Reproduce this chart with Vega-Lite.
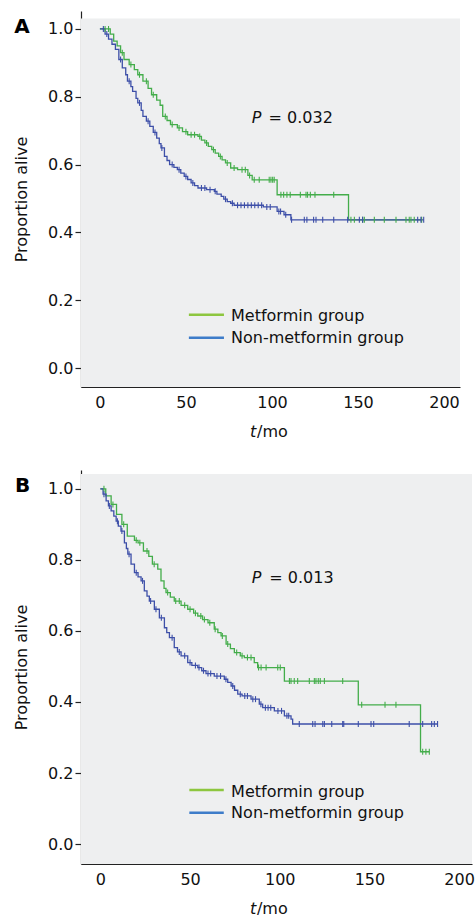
{
  "$schema": "https://vega.github.io/schema/vega-lite/v6.json",
  "autosize": {"type": "pad"},
  "padding": {"left": 13, "top": 11, "right": 0, "bottom": 0},
  "background": "white",
  "spacing": 29,
  "config": {
    "view": {"stroke": null},
    "font": "DejaVu Sans",
    "axis": {"grid": false, "domainColor": "#222", "tickColor": "#222", "labelColor": "#111", "titleColor": "#111", "labelFont": "DejaVu Sans", "titleFont": "DejaVu Sans", "labelFontSize": 16, "titleFontSize": 16, "titleFontWeight": "normal", "domainWidth": 1.2, "tickWidth": 1.2},
    "text": {"font": "DejaVu Sans", "fontSize": 16, "color": "#111"}
  },
  "datasets": {
    "A": [
      {"t":0,"s":1,"g":"M","c":0},{"t":3,"s":1,"g":"M","c":1},{"t":5,"s":1,"g":"M","c":1},{"t":6,"s":0.985,"g":"M","c":0},{"t":8,"s":0.964,"g":"M","c":0},{"t":10,"s":0.95,"g":"M","c":0},{"t":12,"s":0.93,"g":"M","c":0},{"t":13,"s":0.93,"g":"M","c":1},{"t":14,"s":0.91,"g":"M","c":0},{"t":17,"s":0.895,"g":"M","c":0},{"t":18,"s":0.895,"g":"M","c":1},{"t":20,"s":0.88,"g":"M","c":0},{"t":22,"s":0.865,"g":"M","c":0},{"t":23,"s":0.865,"g":"M","c":1},{"t":25,"s":0.846,"g":"M","c":0},{"t":27,"s":0.846,"g":"M","c":1},{"t":28,"s":0.825,"g":"M","c":0},{"t":30,"s":0.806,"g":"M","c":0},{"t":31,"s":0.806,"g":"M","c":1},{"t":33,"s":0.79,"g":"M","c":0},{"t":35,"s":0.775,"g":"M","c":0},{"t":36.5,"s":0.742,"g":"M","c":0},{"t":38,"s":0.742,"g":"M","c":1},{"t":39,"s":0.73,"g":"M","c":0},{"t":41,"s":0.718,"g":"M","c":0},{"t":42,"s":0.718,"g":"M","c":1},{"t":45,"s":0.708,"g":"M","c":0},{"t":46,"s":0.708,"g":"M","c":1},{"t":48,"s":0.697,"g":"M","c":0},{"t":50,"s":0.697,"g":"M","c":1},{"t":51,"s":0.688,"g":"M","c":0},{"t":53,"s":0.688,"g":"M","c":1},{"t":55,"s":0.688,"g":"M","c":1},{"t":57,"s":0.683,"g":"M","c":0},{"t":58,"s":0.683,"g":"M","c":1},{"t":59,"s":0.672,"g":"M","c":0},{"t":61,"s":0.664,"g":"M","c":0},{"t":62,"s":0.664,"g":"M","c":1},{"t":63,"s":0.654,"g":"M","c":0},{"t":65,"s":0.644,"g":"M","c":0},{"t":66,"s":0.644,"g":"M","c":1},{"t":67,"s":0.634,"g":"M","c":0},{"t":69,"s":0.624,"g":"M","c":0},{"t":70,"s":0.624,"g":"M","c":1},{"t":71,"s":0.614,"g":"M","c":0},{"t":73,"s":0.605,"g":"M","c":0},{"t":74,"s":0.605,"g":"M","c":1},{"t":76,"s":0.59,"g":"M","c":0},{"t":78,"s":0.59,"g":"M","c":1},{"t":80,"s":0.585,"g":"M","c":0},{"t":82.6,"s":0.585,"g":"M","c":1},{"t":84.5,"s":0.585,"g":"M","c":1},{"t":86,"s":0.568,"g":"M","c":0},{"t":87,"s":0.568,"g":"M","c":1},{"t":88.5,"s":0.555,"g":"M","c":0},{"t":89.7,"s":0.555,"g":"M","c":1},{"t":92.6,"s":0.555,"g":"M","c":1},{"t":98.4,"s":0.555,"g":"M","c":1},{"t":99.4,"s":0.555,"g":"M","c":1},{"t":100.4,"s":0.555,"g":"M","c":1},{"t":101.3,"s":0.555,"g":"M","c":1},{"t":103,"s":0.511,"g":"M","c":0},{"t":105.2,"s":0.511,"g":"M","c":1},{"t":106.8,"s":0.511,"g":"M","c":1},{"t":108.7,"s":0.511,"g":"M","c":1},{"t":110.6,"s":0.511,"g":"M","c":1},{"t":116.5,"s":0.511,"g":"M","c":1},{"t":119.8,"s":0.511,"g":"M","c":1},{"t":120.7,"s":0.511,"g":"M","c":1},{"t":122.3,"s":0.511,"g":"M","c":1},{"t":125,"s":0.511,"g":"M","c":1},{"t":135.9,"s":0.511,"g":"M","c":1},{"t":144.5,"s":0.437,"g":"M","c":0},{"t":145.9,"s":0.437,"g":"M","c":1},{"t":147.9,"s":0.437,"g":"M","c":1},{"t":152.7,"s":0.437,"g":"M","c":1},{"t":153.7,"s":0.437,"g":"M","c":1},{"t":159.5,"s":0.437,"g":"M","c":1},{"t":165.3,"s":0.437,"g":"M","c":1},{"t":172.1,"s":0.437,"g":"M","c":1},{"t":177.9,"s":0.437,"g":"M","c":1},{"t":179.8,"s":0.437,"g":"M","c":1},{"t":180.8,"s":0.437,"g":"M","c":1},{"t":182.7,"s":0.437,"g":"M","c":1},{"t":187,"s":0.437,"g":"M","c":1},
      {"t":0,"s":1,"g":"N","c":0},{"t":2,"s":1,"g":"N","c":1},{"t":3,"s":0.985,"g":"N","c":0},{"t":4,"s":0.985,"g":"N","c":1},{"t":5,"s":0.97,"g":"N","c":0},{"t":7,"s":0.955,"g":"N","c":0},{"t":9,"s":0.94,"g":"N","c":0},{"t":11,"s":0.91,"g":"N","c":0},{"t":12,"s":0.91,"g":"N","c":1},{"t":13,"s":0.885,"g":"N","c":0},{"t":15,"s":0.865,"g":"N","c":0},{"t":16,"s":0.846,"g":"N","c":0},{"t":17,"s":0.846,"g":"N","c":1},{"t":18,"s":0.83,"g":"N","c":0},{"t":19,"s":0.816,"g":"N","c":0},{"t":21,"s":0.795,"g":"N","c":0},{"t":22,"s":0.782,"g":"N","c":0},{"t":23,"s":0.782,"g":"N","c":1},{"t":24,"s":0.76,"g":"N","c":0},{"t":25,"s":0.742,"g":"N","c":0},{"t":27,"s":0.728,"g":"N","c":0},{"t":28,"s":0.728,"g":"N","c":1},{"t":29,"s":0.713,"g":"N","c":0},{"t":31,"s":0.695,"g":"N","c":0},{"t":32,"s":0.695,"g":"N","c":1},{"t":33,"s":0.678,"g":"N","c":0},{"t":34.5,"s":0.662,"g":"N","c":0},{"t":35.5,"s":0.649,"g":"N","c":0},{"t":36,"s":0.649,"g":"N","c":1},{"t":37.5,"s":0.624,"g":"N","c":0},{"t":39,"s":0.612,"g":"N","c":0},{"t":40.5,"s":0.6,"g":"N","c":0},{"t":42,"s":0.6,"g":"N","c":1},{"t":43,"s":0.592,"g":"N","c":0},{"t":45,"s":0.585,"g":"N","c":0},{"t":46,"s":0.585,"g":"N","c":1},{"t":47,"s":0.575,"g":"N","c":0},{"t":49,"s":0.565,"g":"N","c":0},{"t":50,"s":0.565,"g":"N","c":1},{"t":51,"s":0.556,"g":"N","c":0},{"t":53,"s":0.546,"g":"N","c":0},{"t":54,"s":0.546,"g":"N","c":1},{"t":55,"s":0.538,"g":"N","c":0},{"t":57,"s":0.531,"g":"N","c":0},{"t":59,"s":0.531,"g":"N","c":1},{"t":61,"s":0.531,"g":"N","c":1},{"t":62,"s":0.526,"g":"N","c":0},{"t":64,"s":0.526,"g":"N","c":1},{"t":66.5,"s":0.521,"g":"N","c":0},{"t":67,"s":0.521,"g":"N","c":1},{"t":68,"s":0.513,"g":"N","c":0},{"t":70.5,"s":0.506,"g":"N","c":0},{"t":72,"s":0.498,"g":"N","c":0},{"t":73,"s":0.498,"g":"N","c":1},{"t":74,"s":0.491,"g":"N","c":0},{"t":76,"s":0.486,"g":"N","c":0},{"t":77,"s":0.486,"g":"N","c":1},{"t":78,"s":0.48,"g":"N","c":0},{"t":80,"s":0.48,"g":"N","c":1},{"t":82,"s":0.48,"g":"N","c":1},{"t":84,"s":0.48,"g":"N","c":1},{"t":86,"s":0.48,"g":"N","c":1},{"t":88,"s":0.48,"g":"N","c":1},{"t":90,"s":0.48,"g":"N","c":1},{"t":92,"s":0.48,"g":"N","c":1},{"t":94,"s":0.48,"g":"N","c":1},{"t":95,"s":0.475,"g":"N","c":0},{"t":97,"s":0.475,"g":"N","c":1},{"t":99,"s":0.475,"g":"N","c":1},{"t":103,"s":0.462,"g":"N","c":0},{"t":104,"s":0.462,"g":"N","c":1},{"t":105,"s":0.462,"g":"N","c":1},{"t":107,"s":0.452,"g":"N","c":0},{"t":108,"s":0.452,"g":"N","c":1},{"t":111,"s":0.437,"g":"N","c":0},{"t":111.4,"s":0.437,"g":"N","c":1},{"t":118.8,"s":0.437,"g":"N","c":1},{"t":120.3,"s":0.437,"g":"N","c":1},{"t":124.2,"s":0.437,"g":"N","c":1},{"t":125.6,"s":0.437,"g":"N","c":1},{"t":129.5,"s":0.437,"g":"N","c":1},{"t":135.9,"s":0.437,"g":"N","c":1},{"t":144,"s":0.437,"g":"N","c":1},{"t":150.8,"s":0.437,"g":"N","c":1},{"t":152.7,"s":0.437,"g":"N","c":1},{"t":184.7,"s":0.437,"g":"N","c":1},{"t":186.6,"s":0.437,"g":"N","c":1},{"t":188.2,"s":0.437,"g":"N","c":1}
    ],
    "B": [
      {"t":0,"s":1,"g":"M","c":0},{"t":2,"s":1,"g":"M","c":1},{"t":3,"s":0.98,"g":"M","c":0},{"t":6,"s":0.956,"g":"M","c":0},{"t":7,"s":0.956,"g":"M","c":1},{"t":9,"s":0.928,"g":"M","c":0},{"t":12,"s":0.9,"g":"M","c":0},{"t":13,"s":0.9,"g":"M","c":1},{"t":15,"s":0.867,"g":"M","c":0},{"t":19,"s":0.855,"g":"M","c":0},{"t":20,"s":0.855,"g":"M","c":1},{"t":21,"s":0.848,"g":"M","c":0},{"t":22,"s":0.848,"g":"M","c":1},{"t":24,"s":0.825,"g":"M","c":0},{"t":26,"s":0.825,"g":"M","c":1},{"t":27,"s":0.81,"g":"M","c":0},{"t":29,"s":0.788,"g":"M","c":0},{"t":30,"s":0.788,"g":"M","c":1},{"t":32,"s":0.774,"g":"M","c":0},{"t":33.8,"s":0.741,"g":"M","c":0},{"t":35.5,"s":0.72,"g":"M","c":0},{"t":36.6,"s":0.708,"g":"M","c":0},{"t":37.5,"s":0.708,"g":"M","c":1},{"t":39,"s":0.695,"g":"M","c":0},{"t":41.2,"s":0.684,"g":"M","c":0},{"t":42,"s":0.684,"g":"M","c":1},{"t":44,"s":0.684,"g":"M","c":1},{"t":45,"s":0.672,"g":"M","c":0},{"t":47,"s":0.672,"g":"M","c":1},{"t":48.7,"s":0.661,"g":"M","c":0},{"t":50,"s":0.661,"g":"M","c":1},{"t":52,"s":0.65,"g":"M","c":0},{"t":53,"s":0.65,"g":"M","c":1},{"t":54.3,"s":0.642,"g":"M","c":0},{"t":56,"s":0.642,"g":"M","c":1},{"t":57,"s":0.632,"g":"M","c":0},{"t":58,"s":0.632,"g":"M","c":1},{"t":60,"s":0.623,"g":"M","c":0},{"t":61,"s":0.623,"g":"M","c":1},{"t":63.5,"s":0.605,"g":"M","c":0},{"t":64,"s":0.605,"g":"M","c":1},{"t":65.5,"s":0.595,"g":"M","c":0},{"t":67.3,"s":0.586,"g":"M","c":0},{"t":68,"s":0.586,"g":"M","c":1},{"t":70.1,"s":0.563,"g":"M","c":0},{"t":71,"s":0.563,"g":"M","c":1},{"t":72.5,"s":0.55,"g":"M","c":0},{"t":74.7,"s":0.539,"g":"M","c":0},{"t":76,"s":0.539,"g":"M","c":1},{"t":78,"s":0.53,"g":"M","c":0},{"t":79,"s":0.53,"g":"M","c":1},{"t":80.3,"s":0.525,"g":"M","c":0},{"t":82,"s":0.525,"g":"M","c":1},{"t":84,"s":0.525,"g":"M","c":1},{"t":85.8,"s":0.511,"g":"M","c":0},{"t":87.7,"s":0.497,"g":"M","c":0},{"t":88.2,"s":0.497,"g":"M","c":1},{"t":89.6,"s":0.497,"g":"M","c":1},{"t":92.4,"s":0.497,"g":"M","c":1},{"t":98.9,"s":0.497,"g":"M","c":1},{"t":100.3,"s":0.497,"g":"M","c":1},{"t":102.6,"s":0.459,"g":"M","c":0},{"t":105.4,"s":0.459,"g":"M","c":1},{"t":106.3,"s":0.459,"g":"M","c":1},{"t":108.1,"s":0.459,"g":"M","c":1},{"t":110,"s":0.459,"g":"M","c":1},{"t":116.5,"s":0.459,"g":"M","c":1},{"t":119.3,"s":0.459,"g":"M","c":1},{"t":120.2,"s":0.459,"g":"M","c":1},{"t":121.5,"s":0.459,"g":"M","c":1},{"t":122.6,"s":0.459,"g":"M","c":1},{"t":124.9,"s":0.459,"g":"M","c":1},{"t":135.1,"s":0.459,"g":"M","c":1},{"t":143.8,"s":0.392,"g":"M","c":0},{"t":145.7,"s":0.392,"g":"M","c":1},{"t":158.7,"s":0.392,"g":"M","c":1},{"t":164.8,"s":0.392,"g":"M","c":1},{"t":178.5,"s":0.26,"g":"M","c":0},{"t":179.7,"s":0.26,"g":"M","c":1},{"t":181.5,"s":0.26,"g":"M","c":1},{"t":183.4,"s":0.26,"g":"M","c":1},
      {"t":0,"s":1,"g":"N","c":0},{"t":1.5,"s":0.985,"g":"N","c":0},{"t":2,"s":0.985,"g":"N","c":1},{"t":3.2,"s":0.966,"g":"N","c":0},{"t":4.5,"s":0.952,"g":"N","c":0},{"t":5,"s":0.952,"g":"N","c":1},{"t":6,"s":0.938,"g":"N","c":0},{"t":7.5,"s":0.923,"g":"N","c":0},{"t":8.8,"s":0.909,"g":"N","c":0},{"t":9.5,"s":0.909,"g":"N","c":1},{"t":10,"s":0.895,"g":"N","c":0},{"t":11.5,"s":0.881,"g":"N","c":0},{"t":12,"s":0.881,"g":"N","c":1},{"t":13.4,"s":0.848,"g":"N","c":0},{"t":14.5,"s":0.832,"g":"N","c":0},{"t":15.3,"s":0.816,"g":"N","c":0},{"t":16,"s":0.816,"g":"N","c":1},{"t":17.1,"s":0.788,"g":"N","c":0},{"t":19,"s":0.764,"g":"N","c":0},{"t":20,"s":0.764,"g":"N","c":1},{"t":21,"s":0.752,"g":"N","c":0},{"t":22.7,"s":0.741,"g":"N","c":0},{"t":23.5,"s":0.741,"g":"N","c":1},{"t":24.5,"s":0.713,"g":"N","c":0},{"t":26,"s":0.698,"g":"N","c":0},{"t":27.3,"s":0.684,"g":"N","c":0},{"t":28,"s":0.684,"g":"N","c":1},{"t":30.1,"s":0.661,"g":"N","c":0},{"t":31,"s":0.661,"g":"N","c":1},{"t":32.9,"s":0.637,"g":"N","c":0},{"t":34,"s":0.637,"g":"N","c":1},{"t":35.7,"s":0.609,"g":"N","c":0},{"t":37,"s":0.595,"g":"N","c":0},{"t":38.5,"s":0.581,"g":"N","c":0},{"t":40,"s":0.581,"g":"N","c":1},{"t":41.2,"s":0.553,"g":"N","c":0},{"t":43,"s":0.541,"g":"N","c":0},{"t":44,"s":0.541,"g":"N","c":1},{"t":45,"s":0.53,"g":"N","c":0},{"t":47,"s":0.53,"g":"N","c":1},{"t":48.7,"s":0.511,"g":"N","c":0},{"t":50,"s":0.511,"g":"N","c":1},{"t":51,"s":0.503,"g":"N","c":0},{"t":53,"s":0.503,"g":"N","c":1},{"t":54.3,"s":0.497,"g":"N","c":0},{"t":55,"s":0.497,"g":"N","c":1},{"t":56.5,"s":0.488,"g":"N","c":0},{"t":57.5,"s":0.488,"g":"N","c":1},{"t":58.9,"s":0.48,"g":"N","c":0},{"t":60,"s":0.48,"g":"N","c":1},{"t":61.5,"s":0.48,"g":"N","c":1},{"t":63.5,"s":0.473,"g":"N","c":0},{"t":65,"s":0.473,"g":"N","c":1},{"t":67,"s":0.473,"g":"N","c":1},{"t":69.1,"s":0.464,"g":"N","c":0},{"t":70,"s":0.464,"g":"N","c":1},{"t":71,"s":0.455,"g":"N","c":0},{"t":72.9,"s":0.445,"g":"N","c":0},{"t":73.8,"s":0.445,"g":"N","c":1},{"t":74.8,"s":0.433,"g":"N","c":0},{"t":76.6,"s":0.422,"g":"N","c":0},{"t":78,"s":0.422,"g":"N","c":1},{"t":79,"s":0.417,"g":"N","c":0},{"t":80.5,"s":0.417,"g":"N","c":1},{"t":82,"s":0.417,"g":"N","c":1},{"t":84,"s":0.408,"g":"N","c":0},{"t":85,"s":0.408,"g":"N","c":1},{"t":86.5,"s":0.408,"g":"N","c":1},{"t":88.6,"s":0.394,"g":"N","c":0},{"t":89.5,"s":0.394,"g":"N","c":1},{"t":90.5,"s":0.384,"g":"N","c":0},{"t":92,"s":0.384,"g":"N","c":1},{"t":93.5,"s":0.384,"g":"N","c":1},{"t":95,"s":0.384,"g":"N","c":1},{"t":97,"s":0.375,"g":"N","c":0},{"t":99,"s":0.375,"g":"N","c":1},{"t":101,"s":0.375,"g":"N","c":1},{"t":102.6,"s":0.361,"g":"N","c":0},{"t":104,"s":0.361,"g":"N","c":1},{"t":105,"s":0.361,"g":"N","c":1},{"t":106.3,"s":0.352,"g":"N","c":0},{"t":107.2,"s":0.338,"g":"N","c":0},{"t":110.9,"s":0.338,"g":"N","c":1},{"t":118.4,"s":0.338,"g":"N","c":1},{"t":119.7,"s":0.338,"g":"N","c":1},{"t":124,"s":0.338,"g":"N","c":1},{"t":124.9,"s":0.338,"g":"N","c":1},{"t":129,"s":0.338,"g":"N","c":1},{"t":135.1,"s":0.338,"g":"N","c":1},{"t":135.7,"s":0.338,"g":"N","c":1},{"t":143.8,"s":0.338,"g":"N","c":1},{"t":150.9,"s":0.338,"g":"N","c":1},{"t":152.4,"s":0.338,"g":"N","c":1},{"t":172.2,"s":0.338,"g":"N","c":1},{"t":179.7,"s":0.338,"g":"N","c":1},{"t":184.7,"s":0.338,"g":"N","c":1},{"t":186.2,"s":0.338,"g":"N","c":1},{"t":188,"s":0.338,"g":"N","c":1}
    ]
  },
  "vconcat": [
    {
      "width": 379,
      "height": 376,
      "layer": [
        {"data": {"values": [{}]}, "mark": {"type": "rect", "color": "#eeeff0"},
         "encoding": {
           "x": {"datum": -11, "type": "quantitative", "scale": {"domain": [-11, 209.3], "nice": false, "zero": false},
                 "axis": {"values": [0, 50, 100, 150, 200], "title": null, "tickSize": -7, "labelPadding": 14}},
           "x2": {"datum": 209.3},
           "y": {"datum": -0.056, "type": "quantitative", "scale": {"domain": [-0.056, 1.053], "nice": false, "zero": false},
                 "axis": {"values": [0, 0.2, 0.4, 0.6, 0.8, 1.0], "format": ".1f", "title": "Proportion alive", "tickSize": 6, "labelPadding": 2, "titlePadding": 18}},
           "y2": {"datum": 1.031}}},
        {"data": {"name": "A"},
         "mark": {"type": "line", "interpolate": "step-after", "strokeWidth": 1.3},
         "encoding": {
           "x": {"field": "t", "type": "quantitative"},
           "y": {"field": "s", "type": "quantitative"},
           "color": {"field": "g", "type": "nominal", "scale": {"domain": ["M", "N"], "range": ["#43ad4a", "#3d4fa8"]}, "legend": null},
           "order": {"field": "t"}
         }},
        {"data": {"name": "A"},
         "transform": [{"filter": "datum.c == 1"}],
         "mark": {"type": "point", "shape": "M0,-1V1", "size": 36, "strokeWidth": 1.1, "filled": false, "opacity": 1},
         "encoding": {
           "x": {"field": "t", "type": "quantitative"},
           "y": {"field": "s", "type": "quantitative"},
           "stroke": {"field": "g", "type": "nominal", "scale": {"domain": ["M", "N"], "range": ["#43ad4a", "#3d4fa8"]}, "legend": null}}},
        {"data": {"values": [{}]}, "mark": {"type": "rule", "color": "#8dc63f", "strokeWidth": 2.5},
         "encoding": {"x": {"datum": 51.7}, "x2": {"datum": 72.1}, "y": {"datum": 0.157}}},
        {"data": {"values": [{}]}, "mark": {"type": "rule", "color": "#3d7cc9", "strokeWidth": 2.5},
         "encoding": {"x": {"datum": 51.7}, "x2": {"datum": 72.1}, "y": {"datum": 0.089}}},
        {"data": {"values": [{}]}, "mark": {"type": "text", "text": "Metformin group", "align": "left", "baseline": "middle", "fontSize": 16},
         "encoding": {"x": {"datum": 76.2}, "y": {"datum": 0.153}}},
        {"data": {"values": [{}]}, "mark": {"type": "text", "text": "Non-metformin group", "align": "left", "baseline": "middle", "fontSize": 16},
         "encoding": {"x": {"datum": 76.2}, "y": {"datum": 0.088}}},
        {"data": {"values": [{}]}, "mark": {"type": "text", "text": "P", "fontStyle": "italic", "align": "left", "baseline": "middle", "fontSize": 16},
         "encoding": {"x": {"datum": 88.2}, "y": {"datum": 0.736}}},
        {"data": {"values": [{}]}, "mark": {"type": "text", "text": "= 0.032", "align": "left", "baseline": "middle", "fontSize": 16},
         "encoding": {"x": {"datum": 98}, "y": {"datum": 0.736}}},
        {"data": {"values": [{}]}, "mark": {"type": "text", "text": "A", "fontWeight": "bold", "align": "center", "baseline": "middle", "fontSize": 20, "color": "#000"},
         "encoding": {"x": {"datum": -45.3}, "y": {"datum": 1.007}}},
        {"data": {"values": [{}]}, "mark": {"type": "text", "text": "t", "fontStyle": "italic", "align": "left", "baseline": "middle", "fontSize": 16},
         "encoding": {"x": {"datum": 87.2}, "y": {"datum": -0.189}}},
        {"data": {"values": [{}]}, "mark": {"type": "text", "text": "/mo", "align": "left", "baseline": "middle", "fontSize": 16},
         "encoding": {"x": {"datum": 91.3}, "y": {"datum": -0.189}}}
      ]
    },
    {
      "width": 391,
      "height": 394,
      "layer": [
        {"data": {"values": [{}]}, "mark": {"type": "rect", "color": "#eeeff0"},
         "encoding": {
           "x": {"datum": -10.8, "type": "quantitative", "scale": {"domain": [-10.8, 207.2], "nice": false, "zero": false},
                 "axis": {"values": [0, 50, 100, 150, 200], "title": null, "tickSize": -7, "labelPadding": 14}},
           "x2": {"datum": 207.2},
           "y": {"datum": -0.056, "type": "quantitative", "scale": {"domain": [-0.056, 1.053], "nice": false, "zero": false},
                 "axis": {"values": [0, 0.2, 0.4, 0.6, 0.8, 1.0], "format": ".1f", "title": "Proportion alive", "tickSize": 6, "labelPadding": 2, "titlePadding": 18}},
           "y2": {"datum": 1.042}}},
        {"data": {"name": "B"},
         "mark": {"type": "line", "interpolate": "step-after", "strokeWidth": 1.3},
         "encoding": {
           "x": {"field": "t", "type": "quantitative"},
           "y": {"field": "s", "type": "quantitative"},
           "color": {"field": "g", "type": "nominal", "scale": {"domain": ["M", "N"], "range": ["#43ad4a", "#3d4fa8"]}, "legend": null},
           "order": {"field": "t"}
         }},
        {"data": {"name": "B"},
         "transform": [{"filter": "datum.c == 1"}],
         "mark": {"type": "point", "shape": "M0,-1V1", "size": 36, "strokeWidth": 1.1, "filled": false, "opacity": 1},
         "encoding": {
           "x": {"field": "t", "type": "quantitative"},
           "y": {"field": "s", "type": "quantitative"},
           "stroke": {"field": "g", "type": "nominal", "scale": {"domain": ["M", "N"], "range": ["#43ad4a", "#3d4fa8"]}, "legend": null}}},
        {"data": {"values": [{}]}, "mark": {"type": "rule", "color": "#8dc63f", "strokeWidth": 2.5},
         "encoding": {"x": {"datum": 49.6}, "x2": {"datum": 68.8}, "y": {"datum": 0.152}}},
        {"data": {"values": [{}]}, "mark": {"type": "rule", "color": "#3d7cc9", "strokeWidth": 2.5},
         "encoding": {"x": {"datum": 49.6}, "x2": {"datum": 68.8}, "y": {"datum": 0.088}}},
        {"data": {"values": [{}]}, "mark": {"type": "text", "text": "Metformin group", "align": "left", "baseline": "middle", "fontSize": 16},
         "encoding": {"x": {"datum": 72.9}, "y": {"datum": 0.148}}},
        {"data": {"values": [{}]}, "mark": {"type": "text", "text": "Non-metformin group", "align": "left", "baseline": "middle", "fontSize": 16},
         "encoding": {"x": {"datum": 72.9}, "y": {"datum": 0.087}}},
        {"data": {"values": [{}]}, "mark": {"type": "text", "text": "P", "fontStyle": "italic", "align": "left", "baseline": "middle", "fontSize": 16},
         "encoding": {"x": {"datum": 84.4}, "y": {"datum": 0.75}}},
        {"data": {"values": [{}]}, "mark": {"type": "text", "text": "= 0.013", "align": "left", "baseline": "middle", "fontSize": 16},
         "encoding": {"x": {"datum": 94.2}, "y": {"datum": 0.75}}},
        {"data": {"values": [{}]}, "mark": {"type": "text", "text": "B", "fontWeight": "bold", "align": "center", "baseline": "middle", "fontSize": 20, "color": "#000"},
         "encoding": {"x": {"datum": -43.4}, "y": {"datum": 1.008}}},
        {"data": {"values": [{}]}, "mark": {"type": "text", "text": "t", "fontStyle": "italic", "align": "left", "baseline": "middle", "fontSize": 16},
         "encoding": {"x": {"datum": 83.4}, "y": {"datum": -0.183}}},
        {"data": {"values": [{}]}, "mark": {"type": "text", "text": "/mo", "align": "left", "baseline": "middle", "fontSize": 16},
         "encoding": {"x": {"datum": 87.3}, "y": {"datum": -0.183}}}
      ]
    }
  ],
  "resolve": {"scale": {"color": "independent", "stroke": "independent", "x": "independent", "y": "independent"}}
}
